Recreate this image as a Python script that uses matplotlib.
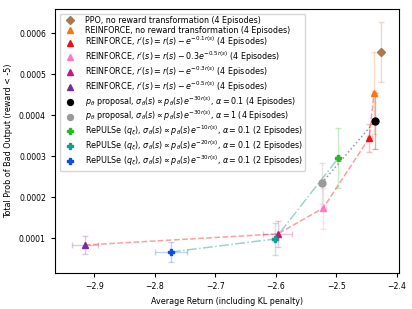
import numpy as np
import matplotlib
matplotlib.use('Agg')
from matplotlib import pyplot as plt

# DATA.
labels = [
    'PPO, no reward transformation (4 Episodes)',
    'REINFORCE, no reward transformation (4 Episodes)',
    r"REINFORCE, $r'(s) = r(s) - e^{-0.1r(s)}$ (4 Episodes)",
    r"REINFORCE, $r'(s) = r(s) - 0.3e^{-0.5r(s)}$ (4 Episodes)",
    r"REINFORCE, $r'(s) = r(s) - e^{-0.3r(s)}$ (4 Episodes)",
    r"REINFORCE, $r'(s) = r(s) - e^{-0.5r(s)}$ (4 Episodes)",
    r'$p_\theta$ proposal, $\sigma_\theta(s) \propto p_\theta(s)e^{-30r(s)}$, $\alpha = 0.1$ (4 Episodes)',
    r'$p_\theta$ proposal, $\sigma_\theta(s) \propto p_\theta(s)e^{-30r(s)}$, $\alpha = 1$ (4 Episodes)',
    r'RePULSe ($q_\xi$), $\sigma_\theta(s) \propto p_\theta(s)e^{-10r(s)}$, $\alpha = 0.1$ (2 Episodes)',
    r'RePULSe ($q_\xi$), $\sigma_\theta(s) \propto p_\theta(s)e^{-20r(s)}$, $\alpha = 0.1$ (2 Episodes)',
    r'RePULSe ($q_\xi$), $\sigma_\theta(s) \propto p_\theta(s)e^{-30r(s)}$, $\alpha = 0.1$ (2 Episodes)',
]
avg_return = [-2.4265, -2.438, -2.446, -2.522, -2.597, -2.9154, -2.4365, -2.5245, -2.497, -2.6017, -2.7735]
return_err = [0.003, 0.003, 0.004, 0.004, 0.024, 0.0215, 0.004, 0.004, 0.003, 0.005, 0.026]
bad_prob = [0.000554, 0.000454, 0.000344, 0.000173, 0.000110, 0.0000829, 0.000385, 0.000234, 0.000295, 0.0000976, 0.0000659]
bad_prob_err = [0.000074, 0.0001, 0.000035, 0.00005, 0.000032, 0.000023, 0.000068, 0.00005, 0.000073, 0.000039, 0.000024]
colors = ['#a9794f', '#ff7411', '#f01010', '#ff7ac0', '#c8157f', '#7a2a9a', 'black', '#999999', '#22bb22', '#199a8f', '#0a4fe0']
markers = ['D', '^', '^', '^', '^', '^', 'o', 'o', 'P', 'P', 'P']

# line groups (indices into the arrays above)
reinforce_curve = [5, 4, 3, 2, 1]
repulse_curve = [10, 9, 8]
proposal_curve = [7, 6]


def main():
    plt.rcParams['font.size'] = 5.8
    fig = plt.figure(figsize=(4.12, 3.09), dpi=100)
    ax = fig.add_axes([0.1335, 0.1165, 0.835, 0.8545])

    x = np.array(avg_return)
    y = np.array(bad_prob)

    ax.plot(x[reinforce_curve], y[reinforce_curve], '--', color='#ff9e9e', linewidth=1.1, zorder=1)
    ax.plot(x[repulse_curve], y[repulse_curve], '-.', color='#9fd1cf', linewidth=1.1, zorder=1)
    ax.plot(x[proposal_curve], y[proposal_curve], ':', color='#999999', linewidth=1.1, zorder=1)

    for i in range(len(labels)):
        ax.errorbar(x[i], y[i], xerr=return_err[i], yerr=bad_prob_err[i], fmt='none',
                    ecolor=colors[i], alpha=0.25, capsize=2, elinewidth=1, zorder=2)
        ax.plot(x[i], y[i], marker=markers[i], color=colors[i], linestyle='none',
                markersize=5 if markers[i] != 'D' else 4.5, label=labels[i], zorder=3)

    ax.set_xlim(-2.965, -2.3967)
    ax.set_ylim(0.0000146, 0.000659)
    ax.set_xticks([-2.9, -2.8, -2.7, -2.6, -2.5, -2.4])
    ax.set_yticks([0.0001, 0.0002, 0.0003, 0.0004, 0.0005, 0.0006])
    ax.set_yticklabels(['0.0001', '0.0002', '0.0003', '0.0004', '0.0005', '0.0006'])
    ax.tick_params(labelsize=5.6, length=3)
    ax.set_xlabel('Average Return (including KL penalty)', fontsize=5.8)
    ax.set_ylabel('Total Prob of Bad Output (reward < -5)', fontsize=5.8)
    ax.legend(loc='upper left', fontsize=5.8, labelspacing=0.05, markerscale=0.85,
              borderaxespad=0.6, borderpad=0.3)

    fig.savefig('out.png', dpi=100)


if __name__ == '__main__':
    main()
